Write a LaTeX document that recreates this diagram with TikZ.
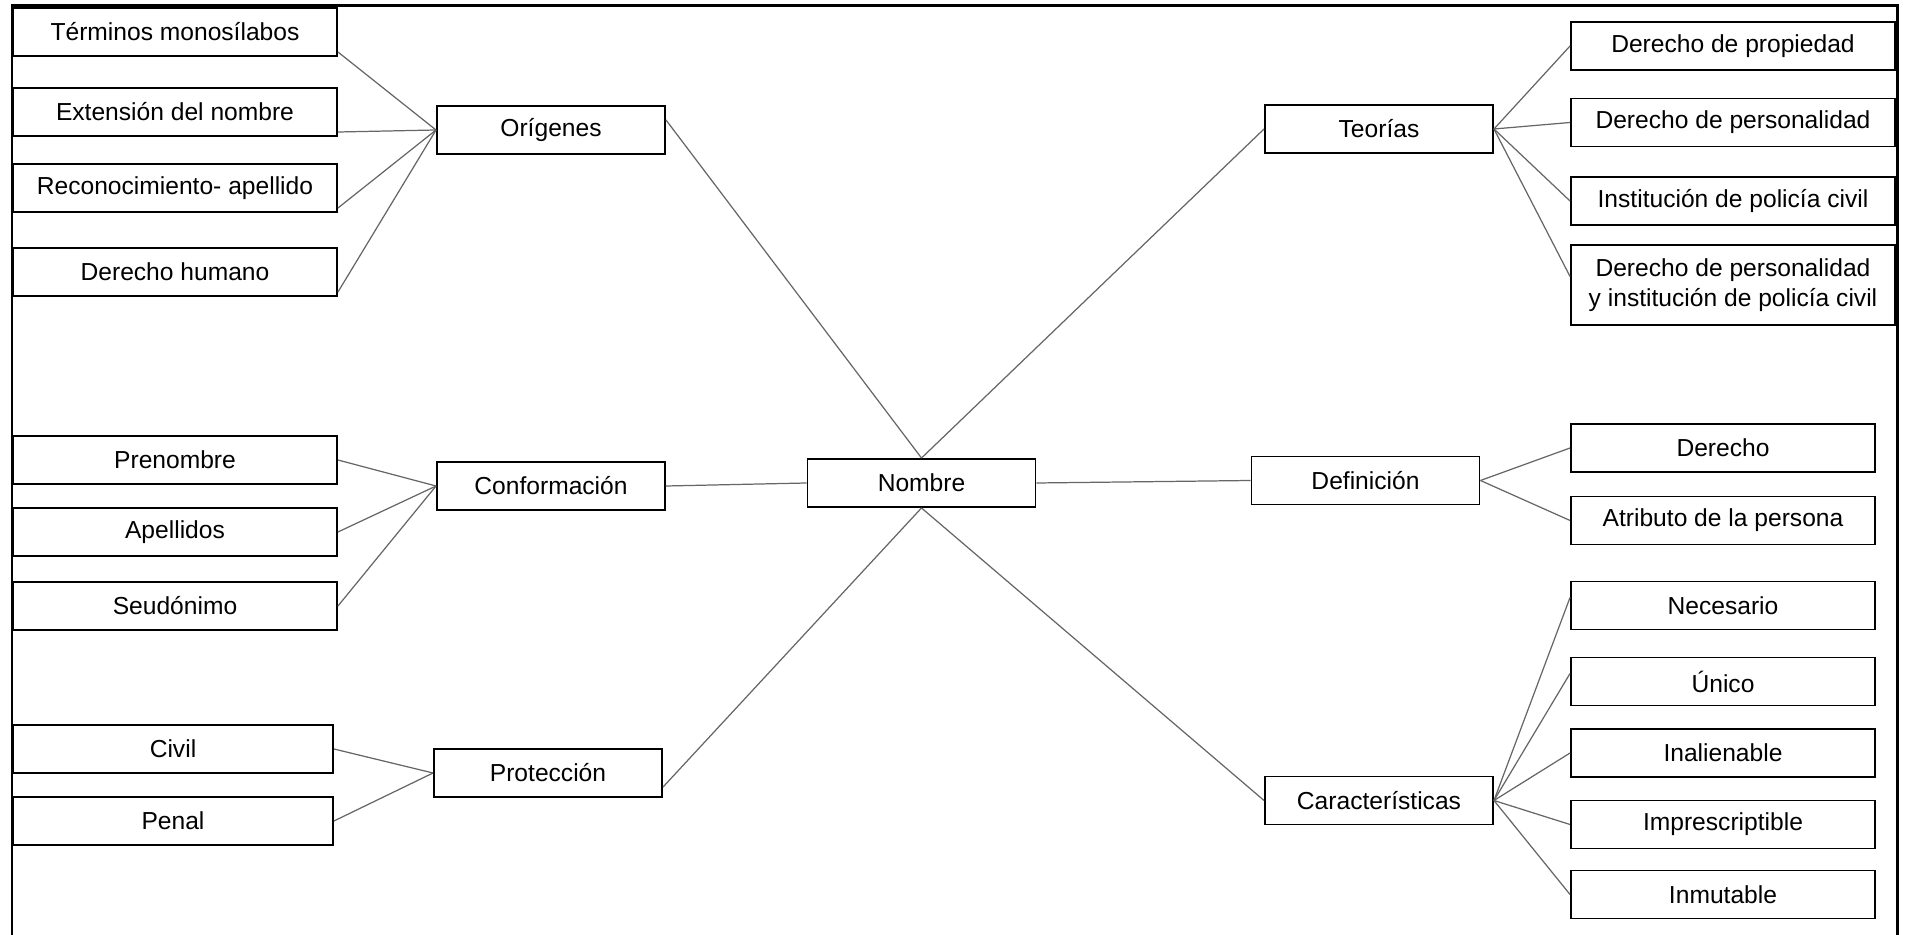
\documentclass[tikz,border=0pt]{standalone}
\usepackage{fontspec}
\setmainfont{Liberation Sans}
\usepackage{tikz}

\begin{document}
\begin{tikzpicture}[x=0.1mm, y=-0.1mm,
    box/.style={draw, rectangle, line width=0.55pt, inner sep=0pt, minimum height=4.8mm, align=center, font=\fontsize{7}{8.5}\selectfont},
    wide/.style={box, minimum width=32.4mm},
    mid/.style={box, minimum width=22.8mm},
    leaf/.style={box, minimum width=30.4mm},
    link/.style={draw=black!60, line width=0.35pt}]

    \useasboundingbox (0,0) rectangle (1908,935);
    % Frame
    \draw [line width=0.85pt] (12,935) -- (12,6) -- (1897,6) -- (1897,935);

    % Centre
    \node [mid] (nombre) at (921.5,483) {Nombre};

    % Origenes
    \node [mid] (orig) at (551,130) {Orígenes};
    \node [wide] (term) at (175,32) {Términos monosílabos};
    \node [wide] (ext) at (175,112) {Extensión del nombre};
    \node [wide] (recon) at (175,188) {Reconocimiento- apellido};
    \node [wide] (dhum) at (175,272) {Derecho humano};
    \foreach \n in {term,ext,recon,dhum}
        \draw [link] (\n.-7) -- (orig.west);

    % Conformacion
    \node [mid] (conf) at (551,486) {Conformación};
    \node [wide] (pren) at (175,460) {Prenombre};
    \node [wide] (apell) at (175,532) {Apellidos};
    \node [wide] (seud) at (175,606) {Seudónimo};
    \foreach \n in {pren,apell,seud}
        \draw [link] (\n.east) -- (conf.west);

    % Proteccion
    \node [mid] (prot) at (548,773) {Protección};
    \node [wide, minimum width=32mm] (civil) at (173,749) {Civil};
    \node [wide, minimum width=32mm] (penal) at (173,821) {Penal};
    \foreach \n in {civil,penal}
        \draw [link] (\n.east) -- (prot.west);

    % Teorias
    \node [mid] (teor) at (1379,129) {Teorías};
    \node [wide] (dprop) at (1733,46) {Derecho de propiedad};
    \node [wide] (dpers) at (1733,122.5) {Derecho de personalidad};
    \node [wide] (inst) at (1733,201) {Institución de policía civil};
    \node [wide, minimum height=8mm] (dpinst) at (1733,285) {Derecho de personalidad\\y institución de policía civil};
    \foreach \n in {dprop,dpers,inst}
        \draw [link] (teor.east) -- (\n.west);
    \draw [link] (teor.east) -- (dpinst.177);

    % Definicion
    \node [mid] (defi) at (1365.5,480.5) {Definición};
    \node [leaf] (derecho) at (1723,448) {Derecho};
    \node [leaf] (atrib) at (1723,520.5) {Atributo de la persona};
    \foreach \n in {derecho,atrib}
        \draw [link] (defi.east) -- (\n.west);

    % Caracteristicas
    \node [mid] (caract) at (1379,800.5) {Características};
    \node [leaf] (nec) at (1723,605.5) {Necesario};
    \node [leaf] (unico) at (1723,681.5) {Único};
    \node [leaf] (inal) at (1723,753) {Inalienable};
    \node [leaf] (impr) at (1723,824.5) {Imprescriptible};
    \node [leaf] (inmut) at (1723,894.5) {Inmutable};
    \draw [link] (caract.east) -- (nec.177);
    \draw [link] (caract.east) -- (unico.177);
    \foreach \n in {inal,impr,inmut}
        \draw [link] (caract.east) -- (\n.west);

    % Links to the centre
    \draw [link] (orig.5) -- (nombre.north);
    \draw [link] (conf.east) -- (nombre.west);
    \draw [link] (prot.-7) -- (nombre.south);
    \draw [link] (nombre.north) -- (teor.west);
    \draw [link] (nombre.east) -- (defi.west);
    \draw [link] (nombre.south) -- (caract.west);
\end{tikzpicture}
\end{document}
